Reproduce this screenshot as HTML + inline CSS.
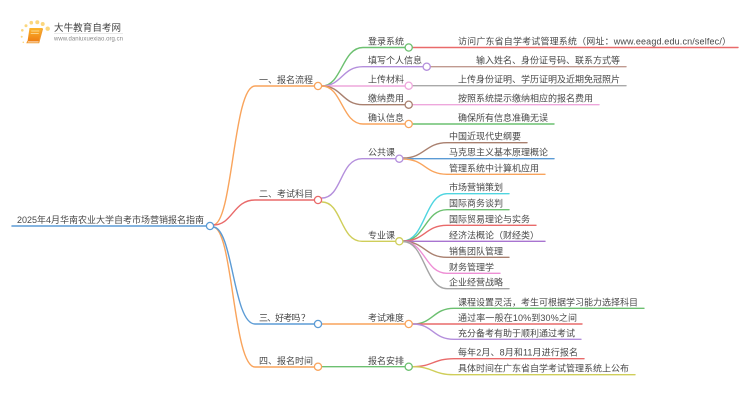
<!DOCTYPE html>
<html>
<head>
<meta charset="utf-8">
<style>
html,body{margin:0;padding:0;background:#fff}
svg{display:block;filter:blur(.3px)}
text{font-family:"Liberation Sans","Noto Sans CJK SC",sans-serif;font-size:9px;fill:#484848}
path{fill:none;stroke-width:1.4;stroke-linecap:round}
circle.n{fill:#fff;stroke-width:1.3}
</style>
</head>
<body>
<svg width="750" height="410" viewBox="0 0 750 410" xmlns="http://www.w3.org/2000/svg">
<defs><linearGradient id="b" x1="0" y1="0" x2="0" y2="1"><stop offset="0" stop-color="#fbb62e"/><stop offset="1" stop-color="#ee7d12"/></linearGradient></defs>

<!-- logo -->
<g fill="#fbd77e">
<circle cx="47.7" cy="28.7" r="2.2"/><circle cx="42.7" cy="24" r="2"/><circle cx="37.3" cy="22.3" r="2"/><circle cx="31.3" cy="22.7" r="1.8"/><circle cx="26" cy="25.7" r="1.5"/><circle cx="22.3" cy="30.3" r="1.3"/><circle cx="21.7" cy="36.7" r="1"/><circle cx="23.3" cy="42.3" r=".8"/>
</g>
<polygon points="29.5,28 42.5,28 39.5,41.5 27.5,41.5" fill="url(#b)"/>
<path d="M27.5 41.5 L27 42.8 L38.8 42.8 L42.5 29" stroke="#f09a30" style="stroke-width:1"/>
<path d="M31.5 31 H39 M31 33.5 H38.5" stroke="#fde3a8" style="stroke-width:.7"/>
<text x="54" y="31" textLength="67" style="font-size:9.5px;fill:#444">大牛教育自考网</text>
<rect x="54" y="33" width="69" height=".6" fill="#ddd"/>
<text x="54" y="40.5" textLength="69" style="font-size:6px;fill:#888">www.daniuxuexiao.org.cn</text>

<!-- root -->
<path d="M12 226 H206" stroke="#5b9bd5" style="stroke-width:1.5"/>
<path d="M213 225 C233 225 233 86 255 86 H314" stroke="#f9a45c"/>
<path d="M213 225 C233 225 233 200 255 200 H314" stroke="#e96a6a"/>
<path d="M213 227 C233 227 233 367 255 367 H314" stroke="#f9a45c"/>
<path d="M213 227 C233 227 233 324 255 324 H314" stroke="#5b9bd5"/>

<!-- branch 1 -->
<path d="M322 86 C342 86 342 47.5 363 47.5 H405" stroke="#6cc070"/>
<path d="M322 86 C342 86 342 66.7 363 66.7 H423" stroke="#b48fdc"/>
<path d="M322 86 H405" stroke="#eea7dc"/>
<path d="M322 86 C342 86 342 104.7 363 104.7 H405" stroke="#a9806f"/>
<path d="M322 86 C342 86 342 124 363 124 H405" stroke="#f9a45c"/>
<path d="M412 47.5 H738" stroke="#e96a6a"/>
<path d="M430 66.7 H626" stroke="#c09a90"/>
<path d="M412 85.7 H626" stroke="#a9a9a9"/>
<path d="M412 104.7 H599" stroke="#eea7dc"/>
<path d="M412 124 H554" stroke="#6cc070"/>

<!-- branch 2 -->
<path d="M322 198 C342 198 340 158.7 362 158.7 H396" stroke="#b48fdc"/>
<path d="M322 202 C342 202 340 241.3 362 241.3 H396" stroke="#cfce5a"/>
<path d="M403 158 C425 158 425 142.7 447 142.7 H527" stroke="#a9806f"/>
<path d="M403 158.7 H554" stroke="#5b9bd5"/>
<path d="M403 159 C425 159 425 174.3 447 174.3 H545" stroke="#f9a45c"/>
<path d="M403 241 C425 241 425 193.7 447 193.7 H509" stroke="#4fd5e0"/>
<path d="M403 241 C425 241 425 209.7 447 209.7 H509" stroke="#6cc070"/>
<path d="M403 241 C425 241 425 225.3 447 225.3 H536" stroke="#e96a6a"/>
<path d="M403 241.3 H545" stroke="#a874d0"/>
<path d="M403 241.5 C425 241.5 425 257.3 447 257.3 H509" stroke="#a9806f"/>
<path d="M403 241.5 C425 241.5 425 273.3 447 273.3 H500" stroke="#ee8fd5"/>
<path d="M403 241.5 C425 241.5 425 288.7 447 288.7 H509" stroke="#a5a5a5"/>

<!-- branch 3 -->
<path d="M322 324 H405" stroke="#f9a45c"/>
<path d="M413 324 C433 324 433 308.3 454 308.3 H644" stroke="#6cc070"/>
<path d="M413 324 H582" stroke="#e96a6a"/>
<path d="M413 324 C433 324 433 339.3 454 339.3 H581" stroke="#b48fdc"/>

<!-- branch 4 -->
<path d="M322 366.7 H405" stroke="#6cc070"/>
<path d="M413 366.7 C433 366.7 433 358.7 454 358.7 H584" stroke="#e96a6a"/>
<path d="M413 366.7 C433 366.7 433 374.7 454 374.7 H635" stroke="#cfce5a"/>

<!-- nodes -->
<circle class="n" cx="210" cy="226" r="3.6" stroke="#5b9bd5"/>
<circle class="n" cx="318" cy="86" r="3.6" stroke="#f9a45c"/>
<circle class="n" cx="318" cy="200" r="3.6" stroke="#e96a6a"/>
<circle class="n" cx="318" cy="324" r="3.6" stroke="#5b9bd5"/>
<circle class="n" cx="318" cy="366.7" r="3.6" stroke="#f9a45c"/>
<circle class="n" cx="408.7" cy="47.5" r="3.6" stroke="#6cc070"/>
<circle class="n" cx="426.7" cy="66.7" r="3.6" stroke="#b48fdc"/>
<circle class="n" cx="408.7" cy="85.7" r="3.6" stroke="#eea7dc"/>
<circle class="n" cx="408.7" cy="104.7" r="3.6" stroke="#a9806f"/>
<circle class="n" cx="408.7" cy="124" r="3.6" stroke="#f9a45c"/>
<circle class="n" cx="399.3" cy="158.7" r="3.6" stroke="#b48fdc"/>
<circle class="n" cx="399.3" cy="241.3" r="3.6" stroke="#cfce5a"/>
<circle class="n" cx="408.7" cy="324" r="3.6" stroke="#f9a45c"/>
<circle class="n" cx="408.7" cy="366.7" r="3.6" stroke="#6cc070"/>

<!-- labels -->
<text x="17" y="223" textLength="187">2025年4月华南农业大学自考市场营销报名指南</text>
<text x="259" y="83">一、报名流程</text>
<text x="259" y="197">二、考试科目</text>
<text x="259" y="321" textLength="51">三、好考吗 ？</text>
<text x="259" y="364">四、报名时间</text>
<text x="368" y="44.5">登录系统</text>
<text x="368" y="63.7">填写个人信息</text>
<text x="368" y="82.7">上传材料</text>
<text x="368" y="101.7">缴纳费用</text>
<text x="368" y="121">确认信息</text>
<text x="368" y="155.7">公共课</text>
<text x="368" y="238.3">专业课</text>
<text x="368" y="321">考试难度</text>
<text x="368" y="364">报名安排</text>
<text x="458" y="44.5" textLength="273">访问广东省自学考试管理系统（网址：www.eeagd.edu.cn/selfec/）</text>
<text x="476" y="63.7">输入姓名、身份证号码、联系方式等</text>
<text x="458" y="82.7">上传身份证明、学历证明及近期免冠照片</text>
<text x="458" y="101.7">按照系统提示缴纳相应的报名费用</text>
<text x="458" y="121">确保所有信息准确无误</text>
<text x="449" y="139.7">中国近现代史纲要</text>
<text x="449" y="155.7">马克思主义基本原理概论</text>
<text x="449" y="171.3">管理系统中计算机应用</text>
<text x="449" y="190.7">市场营销策划</text>
<text x="449" y="206.7">国际商务谈判</text>
<text x="449" y="222.3">国际贸易理论与实务</text>
<text x="449" y="238.3">经济法概论（财经类）</text>
<text x="449" y="254.3">销售团队管理</text>
<text x="449" y="270.3">财务管理学</text>
<text x="449" y="285.7">企业经营战略</text>
<text x="458" y="305.3">课程设置灵活，考生可根据学习能力选择科目</text>
<text x="458" y="321" textLength="119">通过率一般在10%到30%之间</text>
<text x="458" y="336.3">充分备考有助于顺利通过考试</text>
<text x="458" y="355.7" textLength="120">每年2月、8月和11月进行报名</text>
<text x="458" y="371.7">具体时间在广东省自学考试管理系统上公布</text>
</svg>
</body>
</html>
